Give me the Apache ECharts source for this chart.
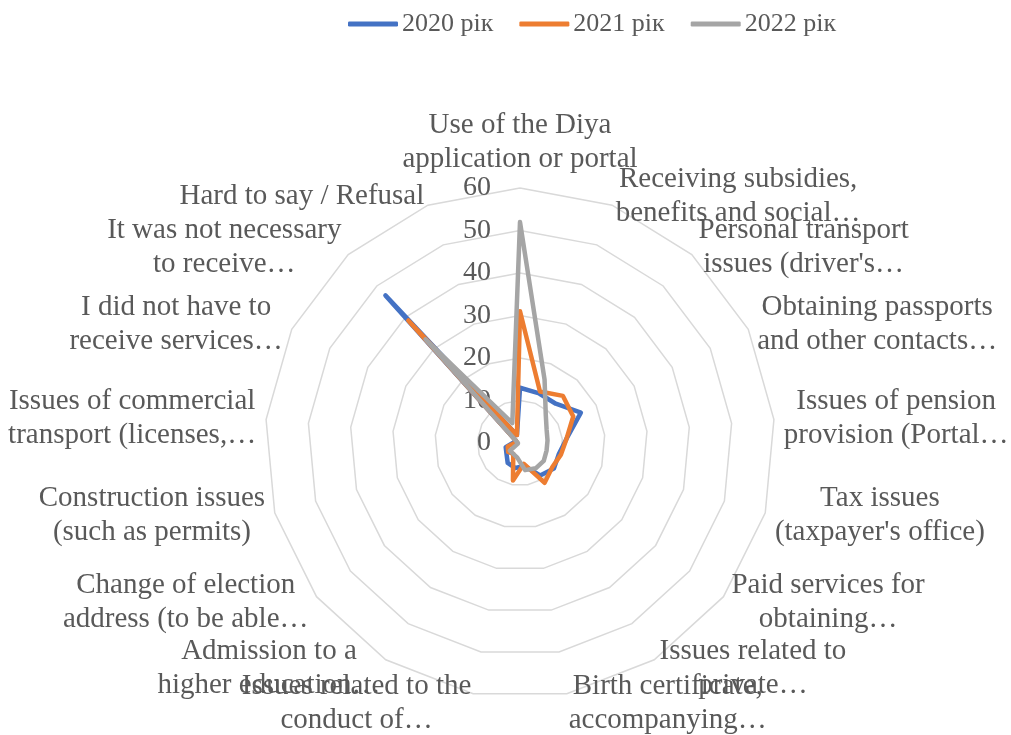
<!DOCTYPE html>
<html>
<head>
<meta charset="utf-8">
<script src="https://cdn.jsdelivr.net/npm/echarts@6/dist/echarts.min.js"></script>
<style>
    html, body {margin: 0; padding: 0; background: #fff;}
    #main {width: 1011px; height: 735px;}
</style>
</head>
<body>
<div id="main"></div>
<script>
    // categories of the radar, clockwise from top
    var categories = [
        'Use of the Diya\napplication or portal',
        'Receiving subsidies,\nbenefits and social…',
        "Personal transport\nissues (driver's…",
        'Obtaining passports\nand other contacts…',
        'Issues of pension\nprovision (Portal…',
        "Tax issues\n(taxpayer's office)",
        'Paid services for\nobtaining…',
        'Issues related to\nprivate…',
        'Birth certificate,\naccompanying…',
        'Issues related to the\nconduct of…',
        'Admission to a\nhigher education…',
        'Change of election\naddress (to be able…',
        'Construction issues\n(such as permits)',
        'Issues of commercial\ntransport (licenses,…',
        'I did not have to\nreceive services…',
        'It was not necessary\nto receive…',
        'Hard to say / Refusal'
    ];

    var seriesNames = ['2020 рік', '2021 рік', '2022 рік'];

    var values2020 = [13, 12.5, 12.5, 16, 11, 9.5, 10, 9, 5.5, 6, 5.5, 4, 3.5, 1.5, 1, 47, 2];
    var values2021 = [31, 13, 15, 14, 11, 10, 9.5, 11, 5, 9, 3, 3.5, 3, 1, 1, 39, 2];
    var values2022 = [52, 16, 9, 7, 6.5, 6.5, 7, 7, 6.5, 3.5, 3, 3, 0.5, 0.5, 1, 33, 5];

    var axisMax = 60;

    var colors = ['#4472C4', '#ED7D31', '#A5A5A5'];
    var textColor = '#595959';
    var font = 'Liberation Serif';

    // echarts radar runs counter-clockwise, so keep the first item on top
    // and reverse the rest to get the clockwise order of the original
    function clockwise(arr) {
        return [arr[0]].concat(arr.slice(1).reverse());
    }

    // only the first axis carries the value labels
    var indicators = clockwise(categories).map(function (name, i) {
        var ind = {name: name, min: 0, max: axisMax};
        if (i > 0) {
            ind.axisLabel = {show: false};
        }
        return ind;
    });

    var allValues = [values2020, values2021, values2022];

    var myChart = echarts.init(document.getElementById('main'));
    var option = {
        color: colors,
        animation: false,
        legend: {
            data: seriesNames,
            left: 343,
            top: 6,
            icon: 'roundRect',
            itemWidth: 50,
            itemHeight: 5,
            itemGap: 26,
            textStyle: {
                color: textColor,
                fontSize: 26,
                fontFamily: font,
                padding: [0, 0, 0, -1]
            }
        },
        radar: {
            center: [520, 443],
            radius: 255,
            startAngle: 90,
            shape: 'polygon',
            splitNumber: 6,
            indicator: indicators,
            nameGap: 10,
            axisName: {
                color: textColor,
                fontSize: 29,
                fontFamily: font,
                formatter: function (value) {
                    return value.split('\n').map(function (line) {
                        return '{c|' + line + '}';
                    }).join('\n');
                },
                rich: {
                    c: {
                        align: 'center',
                        color: textColor,
                        fontSize: 29,
                        fontFamily: font,
                        lineHeight: 34
                    }
                }
            },
            axisLine: {show: false},
            axisTick: {show: false},
            axisLabel: {
                show: true,
                color: textColor,
                fontSize: 28,
                fontFamily: font,
                margin: 29
            },
            splitLine: {
                lineStyle: {color: '#D9D9D9', width: 1.5}
            },
            splitArea: {show: false}
        },
        series: [
            {
                type: 'radar',
                symbol: 'none',
                data: allValues.map(function (vals, i) {
                    return {
                        name: seriesNames[i],
                        value: clockwise(vals),
                        lineStyle: {width: 4.5, color: colors[i], cap: 'round', join: 'round'},
                        itemStyle: {color: colors[i]}
                    };
                })
            }
        ]
    };
    myChart.setOption(option);
</script>
</body>
</html>
